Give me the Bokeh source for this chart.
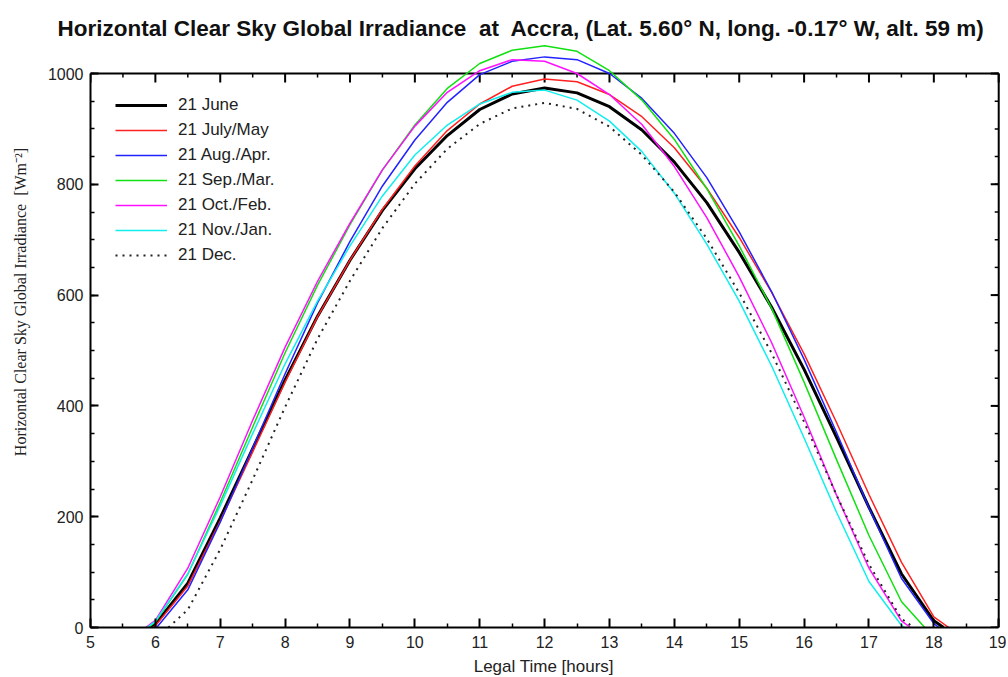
import numpy as np
from bokeh.plotting import figure
from bokeh.models import FixedTicker, LinearAxis, Range1d, Legend, LegendItem, Title
from bokeh.embed import file_html
from bokeh.resources import INLINE

# ---------------- data ----------------
series_labels = ["21 June", "21 July/May", "21 Aug./Apr.", "21 Sep./Mar.",
                 "21 Oct./Feb.", "21 Nov./Jan.", "21 Dec."]

hours_jun = [5.93, 6.0, 6.5, 7.0, 7.5, 8.0, 8.5, 9.0, 9.5, 10.0, 10.5, 11.0, 11.5, 12.0,
             12.5, 13.0, 13.5, 14.0, 14.5, 15.0, 15.5, 16.0, 16.5, 17.0, 17.5, 18.0, 18.15]
irr_jun = [0, 6, 80, 198, 323, 447, 562, 663, 753, 828, 888, 935, 963, 974,
           965, 940, 898, 840, 767, 677, 578, 466, 343, 217, 97, 12, 0]

hours_jul = [5.96, 6.0, 6.5, 7.0, 7.5, 8.0, 8.5, 9.0, 9.5, 10.0, 10.5, 11.0, 11.5, 12.0,
             12.5, 13.0, 13.5, 14.0, 14.5, 15.0, 15.5, 16.0, 16.5, 17.0, 17.5, 18.0, 18.23]
irr_jul = [0, 3, 75, 192, 317, 443, 561, 663, 755, 833, 897, 945, 977, 990,
           985, 962, 922, 866, 793, 704, 605, 494, 370, 240, 118, 19, 0]

hours_aug = [6.02, 6.5, 7.0, 7.5, 8.0, 8.5, 9.0, 9.5, 10.0, 10.5, 11.0, 11.5, 12.0,
             12.5, 13.0, 13.5, 14.0, 14.5, 15.0, 15.5, 16.0, 16.5, 17.0, 17.5, 18.0, 18.08]
irr_aug = [0, 68, 190, 324, 458, 586, 697, 797, 880, 948, 998, 1022, 1030,
           1025, 1000, 955, 892, 812, 714, 606, 484, 352, 216, 89, 7, 0]

hours_sep = [5.89, 6.0, 6.5, 7.0, 7.5, 8.0, 8.5, 9.0, 9.5, 10.0, 10.5, 11.0, 11.5, 12.0,
             12.5, 13.0, 13.5, 14.0, 14.5, 15.0, 15.5, 16.0, 16.5, 17.0, 17.5, 17.86]
irr_sep = [0, 10, 96, 226, 362, 496, 618, 727, 826, 907, 973, 1018, 1042, 1050,
           1040, 1005, 952, 881, 792, 689, 576, 443, 303, 166, 47, 0]

hours_oct = [5.85, 6.0, 6.5, 7.0, 7.5, 8.0, 8.5, 9.0, 9.5, 10.0, 10.5, 11.0, 11.5, 12.0,
             12.5, 13.0, 13.5, 14.0, 14.5, 15.0, 15.5, 16.0, 16.5, 17.0, 17.5, 17.64]
irr_oct = [0, 13, 107, 236, 374, 506, 625, 730, 826, 905, 966, 1005, 1025, 1022,
           1000, 962, 908, 832, 740, 633, 514, 380, 239, 107, 12, 0]

hours_nov = [5.87, 6.0, 6.5, 7.0, 7.5, 8.0, 8.5, 9.0, 9.5, 10.0, 10.5, 11.0, 11.5, 12.0,
             12.5, 13.0, 13.5, 14.0, 14.5, 15.0, 15.5, 16.0, 16.5, 17.0, 17.5, 17.55]
irr_nov = [0, 11, 97, 220, 350, 476, 589, 689, 779, 853, 907, 945, 966, 970,
           952, 914, 859, 784, 692, 589, 472, 342, 208, 83, 4, 0]

hours_dec = [6.2, 6.5, 7.0, 7.5, 8.0, 8.5, 9.0, 9.5, 10.0, 10.5, 11.0, 11.5, 12.0,
             12.5, 13.0, 13.5, 14.0, 14.5, 15.0, 15.5, 16.0, 16.5, 17.0, 17.5, 17.69]
irr_dec = [0, 32, 141, 267, 398, 521, 626, 721, 801, 864, 909, 937, 947,
           936, 904, 853, 786, 702, 604, 495, 371, 239, 114, 16, 0]

x_tick_labels = [5, 6, 7, 8, 9, 10, 11, 12, 13, 14, 15, 16, 17, 18, 19]
y_tick_labels = [0, 200, 400, 600, 800, 1000]

# ---------------- styling ----------------
colors = ["#000000", "#ff2020", "#2222ff", "#11e011", "#ff11ff", "#11eeee", "#222222"]
widths = [3, 1.5, 1.5, 1.5, 1.5, 1.5, 2]
dashes = ["solid"] * 6 + ["2 5"]

PX_PER_H = 64.86
X0, X1 = 5, 19.12
XEND = 19
YTOP = 1000
FRAME_TOP, FRAME_BOTTOM, Y1000_PX = 40, 627, 73
FRAME_H = FRAME_BOTTOM - FRAME_TOP
ppu = (FRAME_BOTTOM - Y1000_PX) / YTOP          # pixels per irradiance unit
Y0, Y1 = 0, FRAME_H / ppu
FRAME_W = int(round((X1 - X0) * PX_PER_H))
ppx = FRAME_W / (X1 - X0)                        # pixels per hour

p = figure(frame_width=FRAME_W, frame_height=FRAME_H,
           x_range=Range1d(X0, X1), y_range=Range1d(Y0, Y1),
           output_backend="svg", toolbar_location=None,
           min_border_left=90, min_border_right=0, min_border_top=FRAME_TOP,
           min_border_bottom=49,
           x_axis_location=None, y_axis_location=None)
p.outline_line_color = None
p.grid.visible = False
p.background_fill_color = "white"
p.border_fill_color = "white"

FONT = "Liberation Sans"
NB = "\u00a0"

title_text = ("Horizontal Clear Sky Global Irradiance" + NB + " at" + NB +
              " Accra, (Lat. 5.60\u00b0 N, long. -0.17\u00b0 W, alt. 59 m)")
p.add_layout(Title(text=title_text, align="left", offset=-33, standoff=0,
                   text_font=FONT, text_font_size="22.5px", text_font_style="bold",
                   text_color="#111111"), "above")

x_minor = [t + 0.5 for t in x_tick_labels[:-1]]
y_minor = list(range(0, 1001, 50))

xax = LinearAxis(ticker=FixedTicker(ticks=x_tick_labels, minor_ticks=x_minor), bounds=(X0, XEND))
xax.axis_label = "Legal Time [hours]" + NB * 2
xax.axis_line_width = 2
xax.major_tick_in = 9
xax.major_tick_out = 0
xax.minor_tick_in = 4
xax.minor_tick_out = 0
xax.major_tick_line_width = 2
xax.minor_tick_line_width = 1.5
xax.major_label_text_font = FONT
xax.major_label_text_font_size = "16px"
xax.major_label_text_color = "#222222"
xax.major_label_standoff = 8
xax.axis_label_text_font = FONT
xax.axis_label_text_font_size = "17px"
xax.axis_label_text_font_style = "normal"
xax.axis_label_text_color = "#222222"
xax.axis_label_standoff = 6
p.add_layout(xax, "below")

yax = LinearAxis(ticker=FixedTicker(ticks=y_tick_labels, minor_ticks=y_minor), bounds=(0, 1000))
# leading no-break spaces move the (bottom-to-top) label upwards, as in the reference
yax.axis_label = NB * 16 + "Horizontal Clear Sky Global Irradiance" + NB + " [Wm\u207b\u00b2]"
yax.axis_line_width = 2
yax.major_tick_in = 8
yax.major_tick_out = 0
yax.minor_tick_in = 4
yax.minor_tick_out = 0
yax.major_tick_line_width = 2
yax.minor_tick_line_width = 1.5
yax.major_label_text_font = FONT
yax.major_label_text_font_size = "16px"
yax.major_label_text_color = "#222222"
yax.major_label_standoff = 7
yax.axis_label_text_font = "Liberation Serif"
yax.axis_label_text_font_size = "16px"
yax.axis_label_text_font_style = "normal"
yax.axis_label_text_color = "#222222"
yax.axis_label_standoff = 16
p.add_layout(yax, "left")

# top frame line (at 1000) with downward ticks
p.segment(x0=[X0], y0=[YTOP], x1=[XEND], y1=[YTOP], line_color="black", line_width=2)
p.segment(x0=x_tick_labels, y0=[YTOP] * len(x_tick_labels), x1=x_tick_labels,
          y1=[YTOP - 9 / ppu] * len(x_tick_labels), line_color="black", line_width=2)
p.segment(x0=x_minor, y0=[YTOP] * len(x_minor), x1=x_minor,
          y1=[YTOP - 4 / ppu] * len(x_minor), line_color="black", line_width=1.5)

# right frame line (at 19 h) with inward ticks
p.segment(x0=[XEND], y0=[Y0], x1=[XEND], y1=[YTOP], line_color="black", line_width=2)
p.segment(x0=[XEND] * len(y_tick_labels), y0=y_tick_labels,
          x1=[XEND - 8 / ppx] * len(y_tick_labels), y1=y_tick_labels, line_color="black", line_width=2)
p.segment(x0=[XEND] * len(y_minor), y0=y_minor,
          x1=[XEND - 4 / ppx] * len(y_minor), y1=y_minor, line_color="black", line_width=1.5)

all_hours = [hours_jun, hours_jul, hours_aug, hours_sep, hours_oct, hours_nov, hours_dec]
all_irr = [irr_jun, irr_jul, irr_aug, irr_sep, irr_oct, irr_nov, irr_dec]

renderers = []
for hrs, irr, c, w, d in zip(all_hours, all_irr, colors, widths, dashes):
    r = p.line(hrs, irr, line_color=c, line_width=w, line_dash=d, line_join="round")
    renderers.append(r)

legend = Legend(items=[LegendItem(label=lab, renderers=[r]) for lab, r in zip(series_labels, renderers)],
                location=(25, 362), padding=0, margin=0, spacing=5,
                glyph_width=52, glyph_height=20, label_height=20, label_standoff=11,
                label_text_font=FONT, label_text_font_size="17px", label_text_color="#222222",
                border_line_color=None, background_fill_alpha=0)
p.add_layout(legend)

open("out.html", "w").write(file_html(p, INLINE))
